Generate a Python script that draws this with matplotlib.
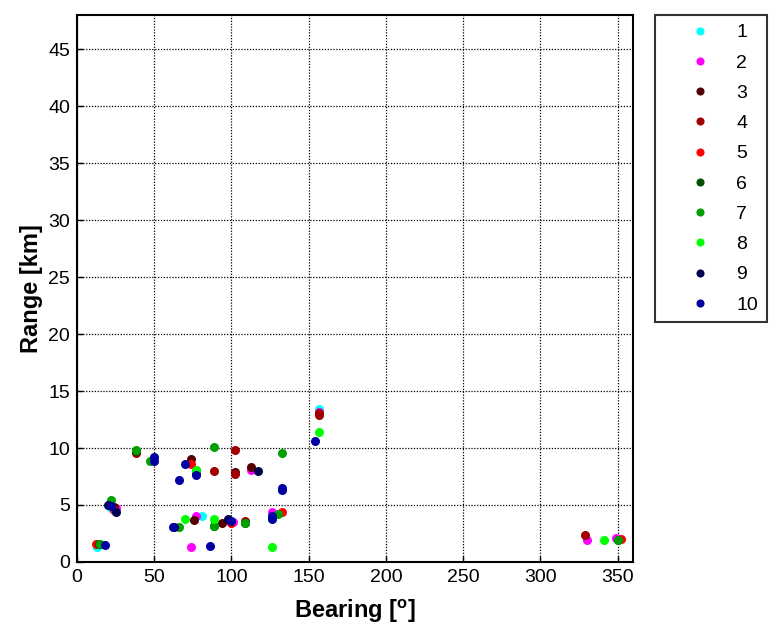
import matplotlib
matplotlib.use("Agg")
import matplotlib.pyplot as plt

plt.rcParams['font.family'] = ['Liberation Sans', 'DejaVu Sans']
plt.rcParams['mathtext.fontset'] = 'custom'
plt.rcParams['mathtext.bf'] = 'Liberation Sans:bold'
plt.rcParams['mathtext.rm'] = 'Liberation Sans'

# bearing [deg] / range [km] per track
labels = ['1', '2', '3', '4', '5', '6', '7', '8', '9', '10']
colors = ['#00ffff', '#ff00ff', '#550000', '#a00000', '#ff0000',
          '#005000', '#00a000', '#00ff00', '#000050', '#0000a0']

bearing = [
    [13, 81, 157, 22, 100],
    [74, 77, 101, 157, 126, 25, 113, 330, 349],
    [74, 94, 113, 24, 102, 76],
    [38, 89, 102, 102, 157, 157, 329, 109, 77],
    [12, 74, 77, 100, 133, 24, 352],
    [38, 14, 89, 109, 350],
    [38, 47, 22, 15, 66, 89, 89, 133, 109, 130, 77, 350],
    [70, 89, 126, 157, 341, 77],
    [20, 25, 117, 63, 98],
    [50, 50, 70, 66, 77, 18, 62, 86, 100, 133, 133, 126, 126, 154, 22],
]
rng = [
    [1.3, 4.0, 13.4, 4.7, 3.6],
    [1.3, 4.0, 3.5, 13.2, 4.4, 4.7, 8.1, 1.9, 2.1],
    [9.0, 3.4, 8.3, 4.8, 7.9, 3.7],
    [9.6, 8.0, 9.8, 7.7, 13.1, 12.9, 2.4, 3.6, 7.8],
    [1.6, 8.6, 8.1, 3.4, 4.4, 4.6, 2.0],
    [9.7, 1.6, 3.2, 3.4, 1.9],
    [9.8, 8.9, 5.4, 1.6, 3.1, 3.2, 10.1, 9.6, 3.4, 4.2, 8.0, 1.9],
    [3.8, 3.8, 1.3, 11.4, 1.9, 8.1],
    [5.0, 4.4, 8.0, 3.1, 3.8],
    [9.2, 8.9, 8.6, 7.2, 7.6, 1.5, 3.1, 1.4, 3.6, 6.5, 6.3, 4.0, 3.8, 10.6, 4.9],
]

fig = plt.figure(figsize=(7.69, 6.31), dpi=100)
ax = fig.add_axes([0.1001, 0.1094, 0.7230, 0.8668])

for b, r, c, lab in zip(bearing, rng, colors, labels):
    ax.plot(b, r, 'o', color=c, markersize=6.5, markeredgewidth=0, label=lab)

ax.set_xlim(0, 360)
ax.set_ylim(0, 48)
ax.set_xticks(range(0, 351, 50))
ax.set_yticks(range(0, 46, 5))
ax.grid(True, color='black', linestyle=(0, (1, 1.3)), linewidth=0.9)
ax.tick_params(direction='in', length=4, width=1, labelsize=14, pad=5,
               top=False, right=False)
for s in ax.spines.values():
    s.set_linewidth(1.5)

ax.set_xlabel(r'Bearing [$^{\bf o}$]', fontsize=17, fontweight='bold', labelpad=8)
ax.set_ylabel('Range [km]', fontsize=17, fontweight='bold', labelpad=4)

leg = fig.legend(loc='upper left', bbox_to_anchor=(655 / 769, 1 - 15 / 631),
                 bbox_transform=fig.transFigure, borderaxespad=0,
                 frameon=True, fancybox=False, edgecolor='black',
                 fontsize=14, handlelength=3.74, handletextpad=0.0,
                 borderpad=0.45, labelspacing=0.65, markerscale=0.9)
leg.get_frame().set_linewidth(1.5)

fig.savefig('out.png', dpi=100)
